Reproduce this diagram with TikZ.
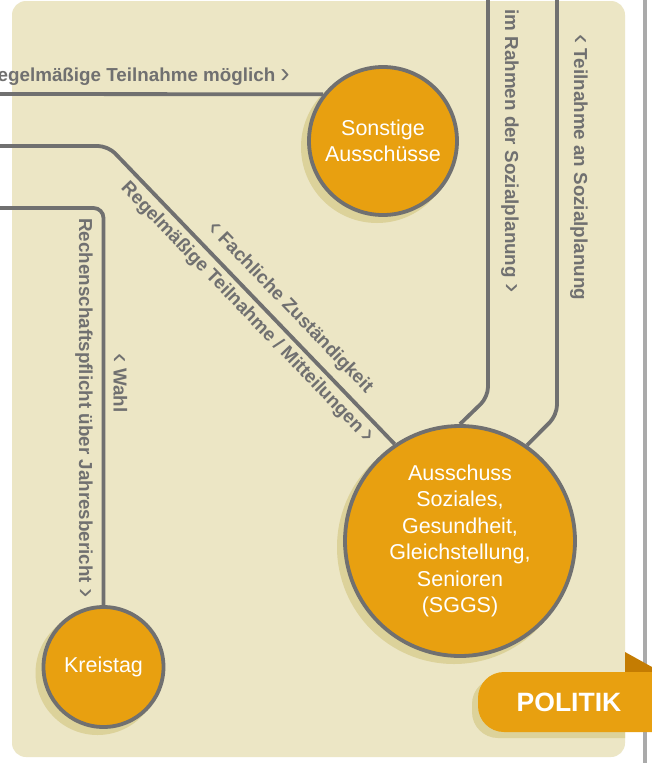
\documentclass[tikz,border=0pt]{standalone}
\usepackage{fontspec}
\setmainfont{Liberation Sans}
\definecolor{panel}{HTML}{ECE6C5}
\definecolor{amber}{HTML}{E8A010}
\definecolor{shadowcol}{HTML}{DCD29A}
\definecolor{ink}{HTML}{707070}
\definecolor{fold}{HTML}{C47C02}
\definecolor{barcol}{HTML}{AAAAAA}
\newcommand{\fwdmark}{{\mdseries\fontsize{28}{0}\selectfont\raisebox{-1pt}{›}}}
\newcommand{\backmark}{{\mdseries\fontsize{28}{0}\selectfont\raisebox{-1pt}{‹}}}
\begin{document}
\begin{tikzpicture}[x=1pt,y=-1pt,
    bubble/.style={draw=ink,line width=3.8pt,circle,fill=amber,text=white,inner sep=0pt,align=center,font=\fontsize{21.5}{26.5}\selectfont},
    lbl/.style={text=ink,inner sep=0pt,font=\bfseries\fontsize{18.8}{22}\selectfont},
    link/.style={draw=ink,line width=3.8pt,rounded corners=10pt}]
            \useasboundingbox (0,0) rectangle (652,763);
            \fill[white] (0,0) rectangle (652,763);
            \fill[barcol] (643,0) rectangle (647,763);
            \fill[panel,rounded corners=14pt] (12,1) rectangle (625,757);
            \fill[shadowcol] (377,147) circle (76pt);
            \fill[shadowcol] (454,547) circle (117pt);
            \fill[shadowcol] (97.5,673) circle (62pt);
            \node[bubble,minimum size=148pt] (sonst) at (383,141) {Sonstige\\Ausschüsse};
            \node[bubble,minimum size=230pt] (sggs) at (460,541) {Ausschuss\\Soziales,\\Gesundheit,\\Gleichstellung,\\Senioren\\(SGGS)};
            \node[bubble,minimum size=120pt] (kreis) at (103.5,667) {Kreistag};
            \coordinate (inA) at (-20,94);
            \coordinate (inB) at (-20,146);
            \coordinate (bendB) at (108,146);
            \coordinate (inC) at (-20,208);
            \coordinate (bendC) at (103.5,208);
            \coordinate (topD) at (488,-20);
            \coordinate (bendD) at (488,397);
            \coordinate (topE) at (557,-20);
            \coordinate (bendE) at (557,415);
            \draw[link] (inA) -- (sonst.142);
            \draw[link] (inB) -- (bendB) -- (sggs.124);
            \draw[link] (inC) -- (bendC) -- (kreis.north);
            \draw[link] (topD) -- (bendD) -- (sggs.north);
            \draw[link] (topE) -- (bendE) -- (sggs.55);
            \node[lbl,anchor=base east] (lblA) at (290,81) {Regelmäßige Teilnahme möglich \fwdmark};
            \node[lbl,rotate=-46] (lblB1) at (290,308) {\backmark{} Fachliche Zuständigkeit};
            \node[lbl,rotate=-46] (lblB2) at (247,313) {Regelmäßige Teilnahme / Mitteilungen \fwdmark};
            \node[lbl,rotate=-90] (lblC1) at (84,408) {Rechenschaftspflicht über Jahresbericht \fwdmark};
            \node[lbl,rotate=-90] (lblC2) at (120,383) {\backmark{} Wahl};
            \node[lbl,rotate=-90] (lblD) at (510,151) {im Rahmen der Sozialplanung \fwdmark};
            \node[lbl,rotate=-90] (lblE) at (579,167) {\backmark{} Teilnahme an Sozialplanung};
            \begin{scope}
                \clip[rounded corners=14pt] (12,1) rectangle (625,757);
                \fill[shadowcol,rounded corners=26pt] (472,678) rectangle (720,738);
            \end{scope}
            \fill[fold] (625,652) -- (652,667) -- (652,672) -- (625,672) -- cycle;
            \fill[amber,rounded corners=26pt] (478,672) rectangle (720,732);
            \node[text=white,font=\bfseries\fontsize{26.5}{26.5}\selectfont] (tab) at (569,702) {POLITIK};
        \end{tikzpicture}
\end{document}
